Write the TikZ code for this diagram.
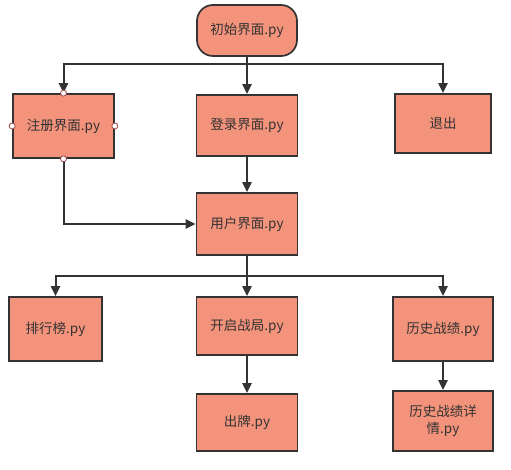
\documentclass[tikz,border=0pt]{standalone}
\usepackage{fontspec}
\newfontfamily\cjkfont{Noto Sans CJK SC}
\usetikzlibrary{arrows.meta}
\definecolor{boxfill}{HTML}{F4937B}
\definecolor{edge}{HTML}{333333}
\definecolor{handle}{HTML}{A04848}
\tikzset{
  box/.style={draw=edge, fill=boxfill, line width=1.7pt, inner sep=2pt, align=center,
    font=\cjkfont\fontsize{13.5}{17}\selectfont, text=edge},
  conn/.style={draw=edge, line width=2pt, -{Triangle[length=10pt,width=9pt]}},
  plain/.style={draw=edge, line width=2pt},
  handlept/.style={circle, draw=handle, fill=white, line width=0.8pt, minimum size=6pt, inner sep=0pt}
}
\begin{document}
\begin{tikzpicture}[x=1pt,y=-1pt]
\useasboundingbox (0,0) rectangle (511,470);
\node[box, rounded corners=16pt, minimum width=100pt, minimum height=51pt] (start) at (247,30.5) {初始界面.py};
\node[box, minimum width=101pt, minimum height=64pt] (reg) at (63.5,126) {注册界面.py};
\node[box, minimum width=101pt, minimum height=61pt] (login) at (247,125.5) {登录界面.py};
\node[box, minimum width=96pt, minimum height=59pt] (exit) at (443,123.5) {退出};
\node[box, minimum width=101pt, minimum height=62pt] (user) at (247,224) {用户界面.py};
\node[box, minimum width=93pt, minimum height=64pt] (rank) at (55.5,329) {排行榜.py};
\node[box, minimum width=101pt, minimum height=58pt] (battle) at (247,326) {开启战局.py};
\node[box, minimum width=100pt, minimum height=64pt] (hist) at (443,329) {历史战绩.py};
\node[box, minimum width=101pt, minimum height=57pt] (play) at (247,422.5) {出牌.py};
\node[box, minimum width=100pt, minimum height=60pt] (detail) at (443,421) {历史战绩详\\情.py};

\coordinate (j1) at (247,64);
\coordinate (j2) at (247,276);

\path[plain] (start.south) -- (j1);
\path[conn] (j1) -| (reg.north);
\path[conn] (j1) -- (login.north);
\path[conn] (j1) -| (exit.north);
\path[conn] (login.south) -- (user.north);
\path[conn] (reg.south) |- (user.west);
\path[plain] (user.south) -- (j2);
\path[conn] (j2) -| (rank.north);
\path[conn] (j2) -- (battle.north);
\path[conn] (j2) -| (hist.north);
\path[conn] (battle.south) -- (play.north);
\path[conn] (hist.south) -- (detail.north);

\node[handlept] (h1) at (reg.north) {};
\node[handlept] (h2) at (reg.south) {};
\node[handlept] (h3) at (reg.west) {};
\node[handlept] (h4) at (reg.east) {};
\end{tikzpicture}
\end{document}
